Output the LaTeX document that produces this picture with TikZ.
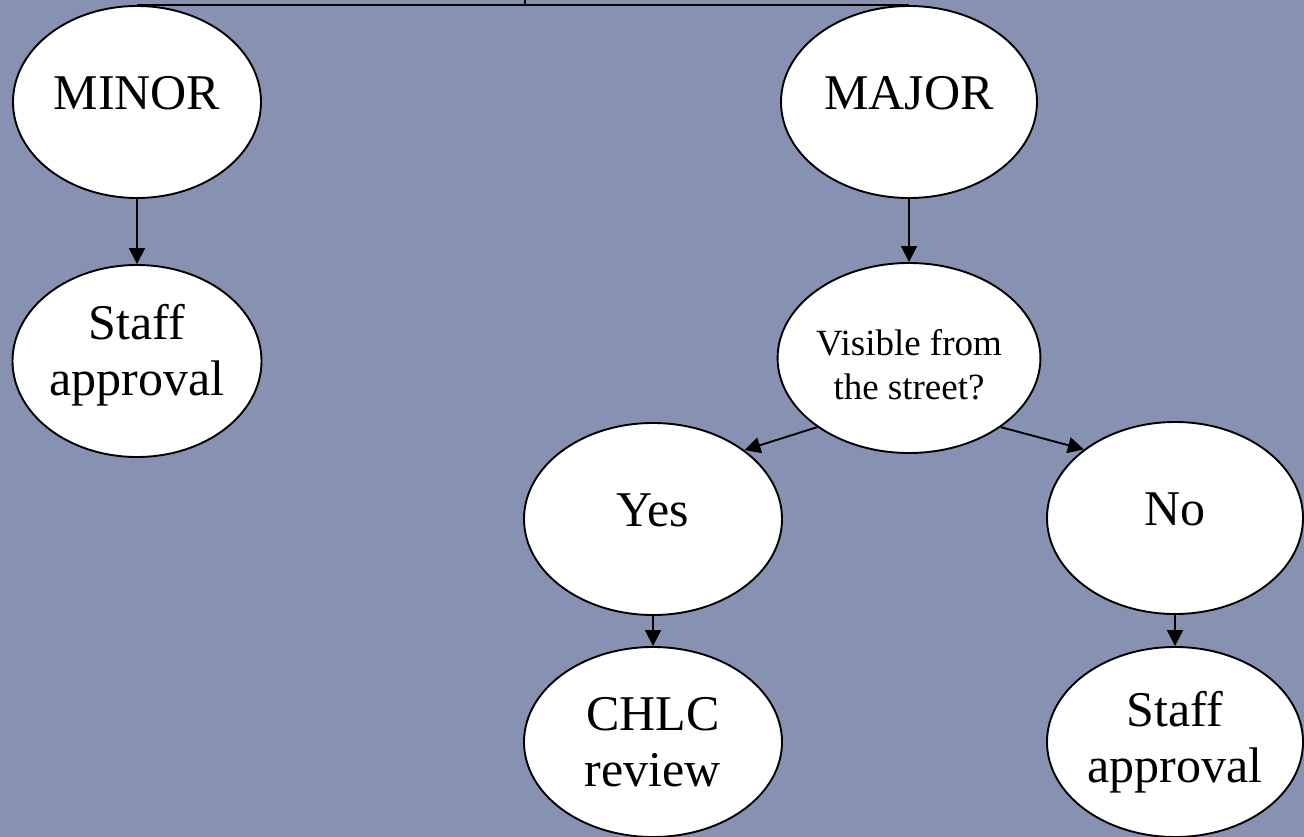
\documentclass[tikz,border=0pt]{standalone}
\usepackage{fontspec}
\setmainfont{Liberation Serif}
\usetikzlibrary{arrows.meta,shapes.geometric}
\definecolor{bgblue}{HTML}{8792B3}
\tikzset{
  bubble/.style={ellipse, draw=black, line width=1.9pt, fill=white, inner sep=0pt,
    minimum width=256pt, minimum height=192pt, align=center,
    font=\fontsize{50}{56}\selectfont},
  single/.style={bubble, text depth=18pt},
  smallbubble/.style={bubble, font=\fontsize{37}{44}\selectfont},
  conn/.style={line width=1.9pt, draw=black},
  arr/.style={conn, -{Triangle[length=16pt,width=16pt]}}
}
\begin{document}
\begin{tikzpicture}[x=1pt,y=-1pt]
  \useasboundingbox[fill=bgblue] (0,0) rectangle (1304,837);
  \node[single, minimum width=248pt] (minor) at (137,102) {MINOR};
  \node[bubble, minimum width=249pt, text depth=23pt] (staffL) at (137,361) {Staff\\approval};
  \node[single] (major) at (909,102) {MAJOR};
  \node[smallbubble, minimum width=257pt, minimum height=190pt, text height=84pt] (vis) at (909,358) {Visible from\\the street?};
  \node[single, minimum width=258pt] (yes) at (653,519) {Yes};
  \node[single] (no) at (1175,518) {No};
  \node[bubble, minimum width=258pt, minimum height=190pt] (chlc) at (653,742) {CHLC\\review};
  \node[bubble, minimum height=190pt] (staffR) at (1175,742) {Staff\\approval};
  \coordinate (top) at (525,0);
  \coordinate (joint) at (525,6);
  \draw[conn] (minor.north) -- (major.north);
  \draw[conn] (top) -- (joint);
  \draw[arr] (minor.south) -- (staffL.north);
  \draw[arr] (major.south) -- (vis.north);
  \draw[arr] (vis.217) -- (yes.37);
  \draw[arr] (vis.323) -- (no.143);
  \draw[arr] (yes.south) -- (chlc.north);
  \draw[arr] (no.south) -- (staffR.north);
\end{tikzpicture}
\end{document}
